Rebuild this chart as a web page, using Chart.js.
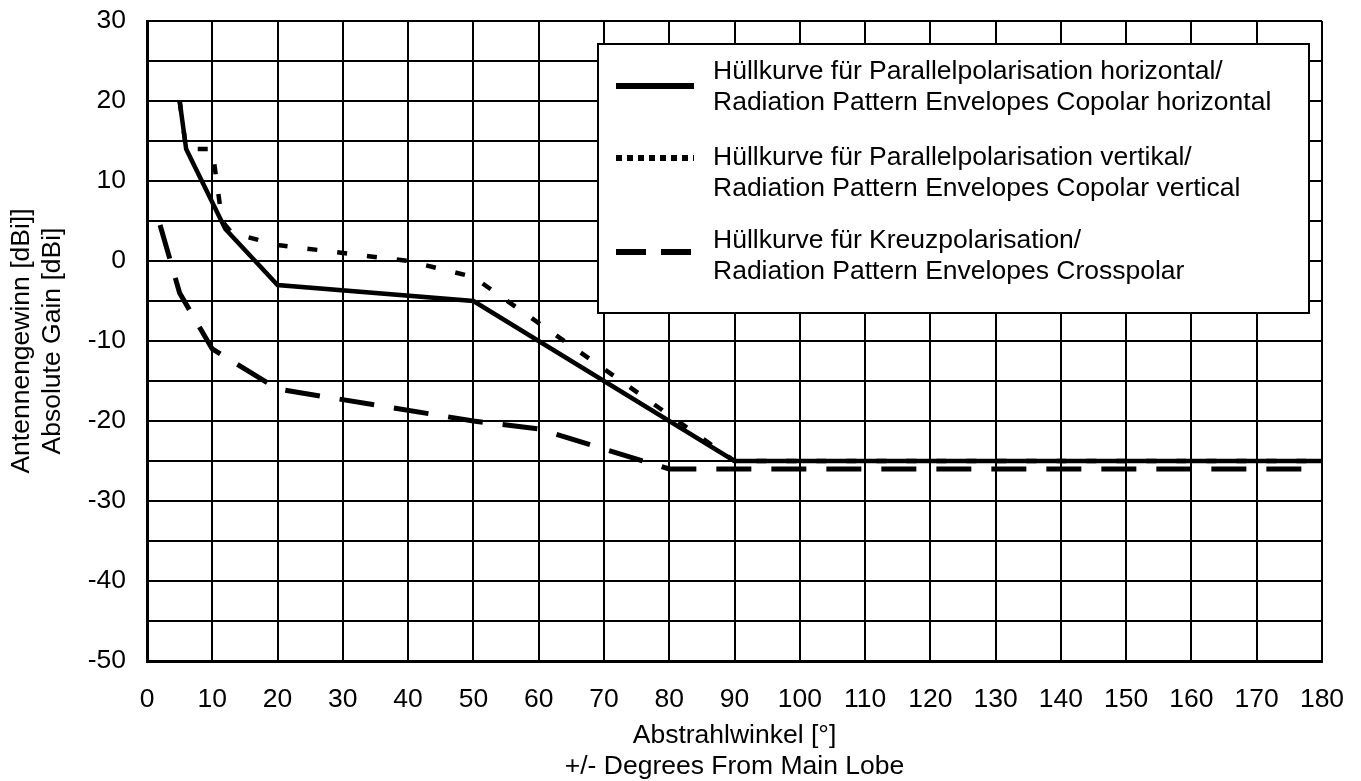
<!DOCTYPE html>
<html>
<head>
<meta charset="utf-8">
<script src="https://cdn.jsdelivr.net/npm/chart.js@4/dist/chart.umd.min.js"></script>
<style>
body{margin:0;background:#fff;}
</style>
</head>
<body>
<canvas id="antenne" width="1361" height="781"></canvas>
<script>
// values
const angleH = [5, 6, 12, 20, 50, 90, 180];
const gainH  = [20, 14, 4, -3, -5, -25, -25];

const angleV = [5, 6, 10, 11.5, 13, 20, 40, 50, 90, 180];
const gainV  = [20, 14, 14, 5, 3.5, 2, 0, -2, -25, -25];

const angleX = [2, 5, 10, 20, 50, 60, 80, 180];
const gainX  = [4.5, -4, -11, -16, -20, -21, -26, -26];

const xTicks = [0,10,20,30,40,50,60,70,80,90,100,110,120,130,140,150,160,170,180];
const yTicks = [-50,-40,-30,-20,-10,0,10,20,30];

const legendText = [
  ['Hüllkurve für Parallelpolarisation horizontal/', 'Radiation Pattern Envelopes Copolar horizontal'],
  ['Hüllkurve für Parallelpolarisation vertikal/', 'Radiation Pattern Envelopes Copolar vertical'],
  ['Hüllkurve für Kreuzpolarisation/', 'Radiation Pattern Envelopes Crosspolar']
];

const FONT = "'Liberation Sans', Arial, sans-serif";
const FS = 26.5;

function pts(xs, ys){
  return xs.map((x,i)=>({x:x, y:ys[i]}));
}

// legend box drawn by hand (two-line labels, framed box)
const boxLegend = {
  id:'boxLegend',
  afterDraw(chart, args, o){
    const c = chart.ctx, a = chart.chartArea;
    const bx = a.left + o.dx, by = a.top + o.dy;
    c.save();
    c.fillStyle='#fff';
    c.fillRect(bx, by, o.w, o.h);
    c.strokeStyle='#000';
    c.lineWidth=2;
    c.strokeRect(bx, by, o.w, o.h);
    c.font = FS + 'px ' + FONT;
    c.fillStyle='#000';
    c.textBaseline='middle';
    c.textAlign='left';
    chart.data.datasets.forEach((ds,i)=>{
      const ty = by + o.rows[i];
      c.fillText(legendText[i][0], bx + 115, ty);
      c.fillText(legendText[i][1], bx + 115, ty + 31);
      c.beginPath();
      c.setLineDash(o.dash[i]);
      c.lineWidth = 6;
      c.strokeStyle = ds.borderColor;
      const ly = ty + o.lineOff[i];
      c.moveTo(bx + 18, ly);
      c.lineTo(bx + 96, ly);
      c.stroke();
    });
    c.restore();
  }
};

new Chart(document.getElementById('antenne').getContext('2d'), {
  type:'line',
  data:{
    datasets:[
      {label:legendText[0].join(' '), data:pts(angleH,gainH), borderColor:'#000', borderWidth:4.5, pointRadius:0, fill:false, tension:0},
      {label:legendText[1].join(' '), data:pts(angleV,gainV), borderColor:'#000', borderWidth:4.5, borderDash:[10,20], pointRadius:0, fill:false, tension:0},
      {label:legendText[2].join(' '), data:pts(angleX,gainX), borderColor:'#000', borderWidth:5, borderDash:[35,20], pointRadius:0, fill:false, tension:0}
    ]
  },
  options:{
    responsive:false,
    animation:false,
    devicePixelRatio:1,
    layout:{padding:{left:0, top:21, right:39, bottom:0}},
    plugins:{
      legend:{display:false},
      tooltip:{enabled:false},
      boxLegend:{dx:451, dy:23, w:711, h:269, rows:[28, 114, 197], lineOff:[14, 0, 11],
        dash:[[], [6,5], [30,15]]}
    },
    scales:{
      x:{
        type:'linear', min:0, max:180,
        afterFit(s){ s.height = 120; s.paddingLeft = 0; s.paddingRight = 0; },
        afterBuildTicks(s){ s.ticks = xTicks.map(v=>({value:v})); },
        grid:{color:'#000', lineWidth:2, drawTicks:false},
        border:{color:'#000', width:3},
        ticks:{color:'#000', padding:23, font:{family:FONT, size:FS}, maxRotation:0, autoSkip:false},
        title:{display:true, text:['Abstrahlwinkel [°]', '+/- Degrees From Main Lobe'], color:'#000',
          font:{family:FONT, size:FS, lineHeight:'31px'}, padding:{top:0, bottom:-1}}
      },
      y:{
        min:-50, max:30,
        afterFit(s){ s.width = 147; s.paddingTop = 0; s.paddingBottom = 0; },
        ticks:{stepSize:5, color:'#000', padding:21, font:{family:FONT, size:FS},
          callback:(v)=> yTicks.includes(v) ? String(v) : ''},
        grid:{color:'#000', lineWidth:2, drawTicks:false},
        border:{color:'#000', width:3},
        title:{display:true, text:['Antennengewinn [dBi]]', 'Absolute Gain [dBi]'], color:'#000',
          font:{family:FONT, size:FS, lineHeight:'31px'}, padding:{top:6.5, bottom:0}}
      }
    }
  },
  plugins:[boxLegend]
});
</script>
</body>
</html>
